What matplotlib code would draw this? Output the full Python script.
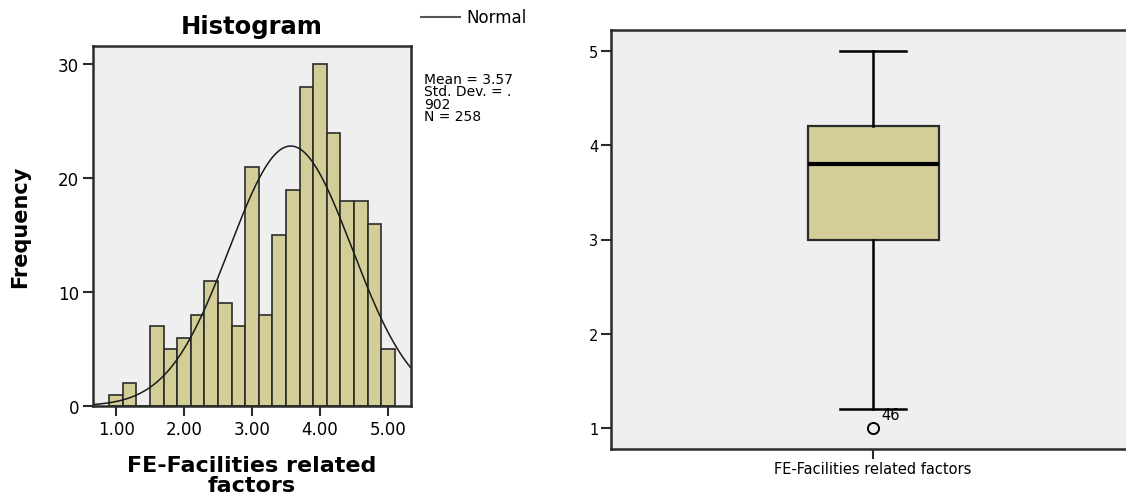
import numpy as np
import matplotlib
matplotlib.use("Agg")
import matplotlib.pyplot as plt

# histogram data (bin width 0.2, first bin starts at 0.9)
bin_left = [0.9, 1.1, 1.3, 1.5, 1.7, 1.9, 2.1, 2.3, 2.5, 2.7, 2.9,
            3.1, 3.3, 3.5, 3.7, 3.9, 4.1, 4.3, 4.5, 4.7, 4.9]
counts = [1, 2, 0, 7, 5, 6, 8, 11, 9, 7, 21,
          8, 15, 19, 28, 30, 24, 18, 18, 16, 5]
bin_width = 0.2
mean_val = 3.57
sd_val = 0.902
n_val = 258

# boxplot summary
box_label = "FE-Facilities related factors"
q1, med, q3 = 3.0, 3.8, 4.2
whis_lo, whis_hi = 1.2, 5.0
outliers = [1.0]
outlier_ids = ["46"]

fill = "#d3cd98"
bg = "#efefef"
edge = "#2b2b2b"

plt.rcParams["font.family"] = "DejaVu Sans"

fig = plt.figure(figsize=(11.26, 5.02), dpi=100)
W, H = 1126.0, 502.0

# ---------------- histogram ----------------
ax = fig.add_axes([93 / W, 1 - 407 / H, (411 - 93) / W, (407 - 47) / H])
ax.set_facecolor(bg)
ax.bar(bin_left, counts, width=bin_width, align="edge",
       color=fill, edgecolor=edge, linewidth=1.2)

xs = np.linspace(0.66, 5.34, 300)
pdf = np.exp(-0.5 * ((xs - mean_val) / sd_val) ** 2) / (sd_val * np.sqrt(2 * np.pi))
ax.plot(xs, pdf * n_val * bin_width, color="#1a1a1a", lw=1.1)

ax.set_xlim(0.66, 5.34)
ax.set_ylim(0, 31.6)
ax.set_xticks([1, 2, 3, 4, 5])
ax.set_xticklabels(["1.00", "2.00", "3.00", "4.00", "5.00"], fontsize=12)
ax.set_yticks([0, 10, 20, 30])
ax.set_yticklabels(["0", "10", "20", "30"], fontsize=12)
ax.tick_params(direction="out", length=7, width=1.5, color=edge, pad=3)
for s in ax.spines.values():
    s.set_color(edge)
    s.set_linewidth(1.8)

ax.set_title("Histogram", fontsize=17.5, fontweight="bold", pad=9)
ax.set_ylabel("Frequency", fontsize=15, fontweight="bold", labelpad=20)
ax.set_xlabel("FE-Facilities related\nfactors", fontsize=16, fontweight="bold",
              labelpad=12, linespacing=1.05)

# legend line + stats text
fig.add_artist(plt.Line2D([421 / W, 460 / W], [1 - 18 / H, 1 - 18 / H],
                          color="#555555", lw=1.5))
fig.text(466 / W, 1 - 18 / H, "Normal", fontsize=12, va="center", ha="left")
fig.text(424 / W, 1 - 73 / H,
         "Mean = %.2f\nStd. Dev. = .\n%d\nN = %d" % (mean_val, round(sd_val * 1000), n_val),
         fontsize=10, va="top", ha="left", linespacing=0.85)

# ---------------- boxplot ----------------
bx = fig.add_axes([611 / W, 1 - 450 / H, (1135 - 611) / W, (450 - 31) / H])
bx.set_facecolor(bg)
stats = [dict(med=med, q1=q1, q3=q3, whislo=whis_lo, whishi=whis_hi,
              fliers=outliers, label=box_label)]
bx.bxp(stats, positions=[1], widths=0.25, capwidths=0.126, patch_artist=True,
       boxprops=dict(facecolor=fill, edgecolor=edge, linewidth=1.6),
       medianprops=dict(color="black", linewidth=3),
       whiskerprops=dict(color="black", linewidth=1.8),
       capprops=dict(color="black", linewidth=1.8),
       flierprops=dict(marker="o", markerfacecolor="none",
                       markeredgecolor="black", markersize=8, markeredgewidth=1.4))
for v, lab in zip(outliers, outlier_ids):
    bx.text(1.015, v + 0.07, lab, fontsize=10.5, ha="left", va="bottom")

bx.set_xlim(0.5, 1.5)
bx.set_ylim(0.78, 5.22)
bx.set_yticks([1, 2, 3, 4, 5])
bx.set_yticklabels(["1", "2", "3", "4", "5"], fontsize=10.5)
bx.set_xticks([1])
bx.set_xticklabels([box_label], fontsize=10.5)
bx.tick_params(direction="out", length=7, width=1.5, color=edge, pad=2)
for s in bx.spines.values():
    s.set_color(edge)
    s.set_linewidth(1.8)

fig.savefig("out.png", dpi=100, facecolor="white")
